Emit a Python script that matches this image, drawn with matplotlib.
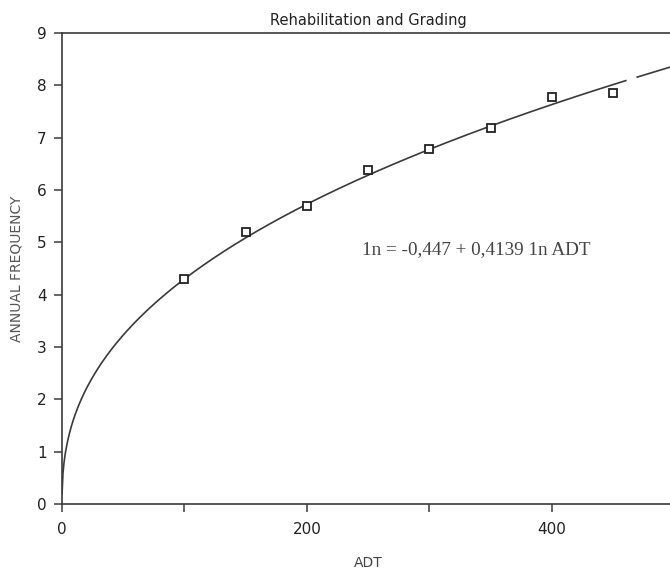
import numpy as np
import matplotlib
matplotlib.use("Agg")
import matplotlib.pyplot as plt

# ----- data -----
adt_obs = [100, 150, 200, 250, 300, 350, 400, 450]
freq_obs = [4.30, 5.20, 5.70, 6.39, 6.79, 7.19, 7.78, 7.86]

# fitted model printed on the chart: ln n = a + b ln ADT
fit_a = -0.447
fit_b = 0.4139

x_ticks = [0, 100, 200, 300, 400]
x_ticklabels = ["0", "", "200", "", "400"]
y_ticks = [0, 1, 2, 3, 4, 5, 6, 7, 8, 9]

ink = "#3a3a3a"

fig = plt.figure(figsize=(6.7, 5.7), dpi=100)
ax = fig.add_axes([0.0925, 0.1158, 0.914, 0.826])

# fitted curve (with the small gap the plotter left near the right end)
for lo, hi in [(0.05, 461), (469, 505)]:
    xs = np.linspace(lo, hi, 600)
    ax.plot(xs, np.exp(fit_a + fit_b * np.log(xs)), color=ink, lw=1.2,
            solid_capstyle="butt", zorder=2)

ax.plot(adt_obs, freq_obs, linestyle="none", marker="s", markersize=6,
        markerfacecolor="white", markeredgecolor="#222222",
        markeredgewidth=1.3, zorder=3)

ax.set_xlim(0, 500)
ax.set_ylim(0, 9)
ax.set_xticks(x_ticks)
ax.set_xticklabels(x_ticklabels)
ax.set_yticks(y_ticks)

for side in ["left", "bottom", "top", "right"]:
    ax.spines[side].set_color(ink)
    ax.spines[side].set_linewidth(1.2)

ax.tick_params(axis="both", direction="out", colors=ink, labelcolor="#222222",
               labelsize=11, width=1.1)
ax.tick_params(axis="y", length=6, pad=5)
ax.tick_params(axis="x", length=6, pad=7)

ax.set_title("Rehabilitation and Grading", fontsize=10.5, color="#222222", pad=6)
ax.set_xlabel("ADT", fontsize=10, color="#444444", labelpad=14)
ax.set_ylabel("ANNUAL FREQUENCY", fontsize=10, color="#555555", labelpad=10)

ax.text(245, 4.86, "1n = -0,447 + 0,4139 1n ADT", fontsize=13.8,
        family="Liberation Serif", color="#444444", va="center", ha="left")

fig.savefig("out.png", dpi=100)
